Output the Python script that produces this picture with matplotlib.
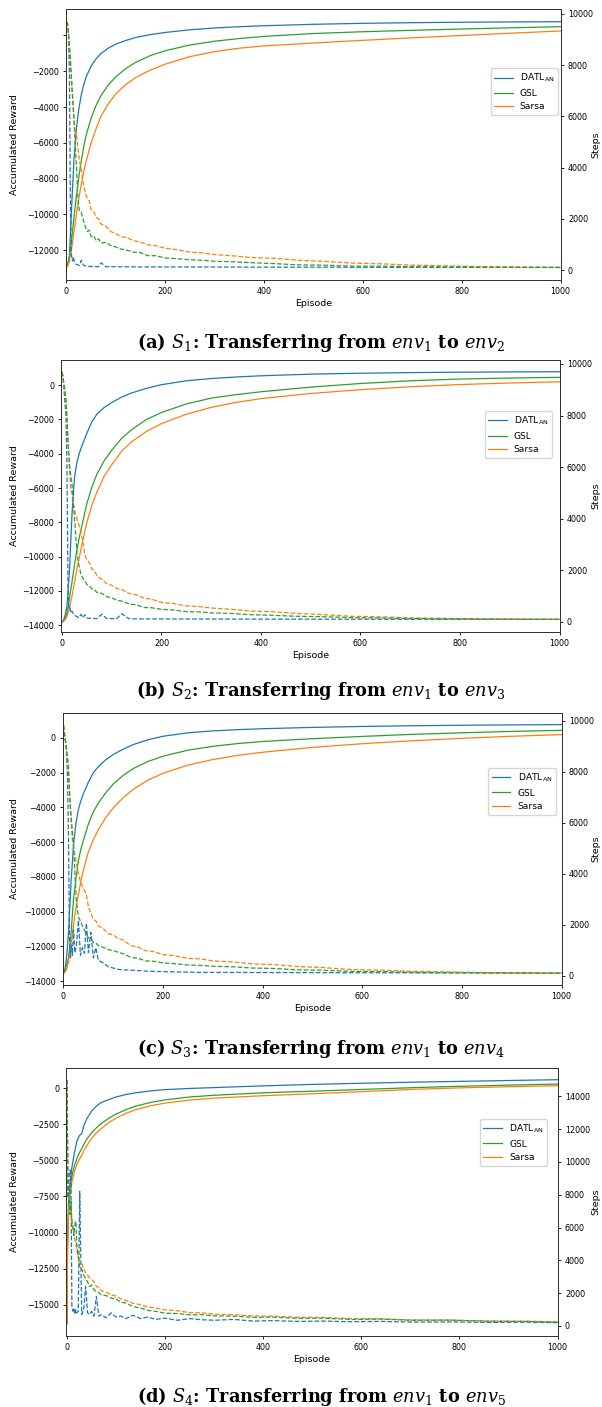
import matplotlib.pyplot as plt
from matplotlib.ticker import FuncFormatter, MultipleLocator

plt.rcParams['font.family'] = ['DejaVu Sans']
plt.rcParams['mathtext.fontset'] = 'dejavusans'

EP_SOLID = [0, 3, 6, 10, 15, 20, 25, 30, 35, 40, 50, 60, 70, 85, 100, 120, 140, 170, 200, 250,
            300, 350, 400, 500, 600, 700, 800, 900, 1000]
EP_SOLID_S4 = [0, 1, 3, 6, 10, 15, 20, 25, 30, 35, 40, 50, 60, 70, 85, 100, 120, 140, 170,
               200, 250, 300, 400, 500, 600, 700, 800, 900, 1000]
EP_STEPS = [0, 2, 4, 6, 8, 10, 12, 14, 16, 18, 20, 23, 26, 30, 34, 38, 42, 46, 50, 55,
            60, 65, 70, 80, 90, 100, 110, 120, 135, 150, 165, 180, 200, 225, 250, 275, 300,
            340, 380, 420, 470, 520, 580, 640, 700, 780, 860, 940, 1000]

# S1: env1 -> env2
S1_REWARD_DATL = [-12950, -12750, -12300, -9800, -7000, -5200, -4100, -3300, -2750, -2300, -1700, -1300, -1000, -700,
                  -480, -280, -110, 50, 170, 320, 420, 490, 545, 625, 680, 715, 740, 757, 770]
S1_REWARD_GSL = [-12950, -12750, -12350, -11500, -10200, -9000, -7900, -7000, -6200, -5550, -4600, -3900, -3350, -2750,
                 -2300, -1850, -1500, -1120, -850, -530, -320, -170, -50, 110, 210, 290, 360, 430, 490]
S1_REWARD_SARSA = [-12950, -12850, -12600, -12000, -11000, -10000, -9100, -8300, -7600, -7000, -6000, -5200, -4500,
                   -3800, -3250, -2750, -2350, -1930, -1600, -1180, -900, -710, -580, -420, -270, -130, 0, 130, 250]
S1_STEPS_DATL = [9700, 9600, 9300, 7500, 2500, 600, 350, 520, 300, 250, 220, 200, 180, 380, 200, 160, 150, 140, 140, 135,
                 130, 130, 280, 130, 130, 130, 125, 125, 125, 120, 120, 120, 120, 118, 118, 116, 115, 115, 113, 112,
                 110, 110, 108, 106, 105, 104, 102, 101, 100]
S1_STEPS_GSL = [9700, 9650, 9200, 8800, 8200, 7550, 6900, 6300, 5600, 4800, 4100, 2900, 2300, 2250, 1950, 1700, 1500,
                1560, 1300, 1340, 1150, 1220, 1050, 1080, 950, 900, 820, 790, 700, 680, 560, 560, 470, 440, 400, 380,
                340, 320, 280, 250, 200, 190, 150, 150, 130, 120, 110, 105, 100]
S1_STEPS_SARSA = [9700, 9600, 9200, 8700, 8100, 7400, 6800, 6200, 5600, 5300, 5400, 4800, 4300, 3900, 3400, 3000, 2800,
                  2700, 2350, 2300, 2050, 2000, 1800, 1700, 1500, 1420, 1300, 1280, 1150, 1090, 980, 950, 850, 790, 700,
                  670, 600, 550, 480, 460, 380, 340, 270, 240, 190, 155, 125, 110, 100]

# S2: env1 -> env3
S2_REWARD_DATL = [-13810, -13700, -13450, -12900, -10800, -7600, -5400, -4500, -3950, -3550, -2800, -2150, -1700, -1300,
                  -1020, -700, -460, -190, 20, 250, 380, 470, 540, 635, 690, 725, 750, 765, 776]
S2_REWARD_GSL = [-13810, -13750, -13600, -13300, -12400, -11500, -10500, -9600, -8850, -8200, -6900, -5950, -5200, -4400,
                 -3800, -3100, -2600, -2000, -1600, -1100, -760, -560, -390, -120, 90, 250, 350, 410, 450]
S2_REWARD_SARSA = [-13810, -13780, -13700, -13500, -13000, -12300, -11500, -10700, -10000, -9300, -8000, -7000, -6250,
                   -5300, -4650, -3850, -3300, -2700, -2250, -1700, -1300, -1010, -790, -490, -270, -100, 30, 120, 190]
S2_STEPS_DATL = [9700, 9500, 9000, 8500, 8000, 6000, 1500, 500, 550, 350, 420, 300, 250, 200, 170, 300, 160, 280, 150,
                 140, 140, 135, 130, 300, 130, 130, 125, 320, 120, 120, 118, 118, 116, 115, 114, 113, 112, 111, 110,
                 109, 108, 107, 106, 105, 104, 103, 102, 101, 100]
S2_STEPS_GSL = [9700, 9500, 9200, 9000, 8600, 7950, 7100, 6400, 5900, 5600, 5380, 4500, 3800, 2660, 2200, 1850, 1700,
                1600, 1450, 1400, 1280, 1250, 1150, 1110, 980, 940, 840, 810, 700, 660, 560, 550, 490, 460, 400, 390,
                350, 330, 280, 260, 220, 205, 170, 155, 130, 120, 110, 105, 100]
S2_STEPS_SARSA = [9700, 9500, 9150, 8900, 8500, 7800, 7000, 6300, 5600, 5100, 5000, 4600, 4300, 4000, 3750, 3500, 3100,
                  2600, 2400, 2300, 2050, 2000, 1800, 1650, 1480, 1420, 1300, 1260, 1100, 1050, 920, 880, 760, 710,
                  620, 600, 540, 490, 420, 400, 330, 290, 220, 200, 160, 135, 115, 105, 100]

# S3: env1 -> env4
S3_REWARD_DATL = [-13560, -13300, -12700, -11250, -8400, -6200, -4900, -4100, -3600, -3200, -2550, -2000, -1650, -1250,
                  -950, -640, -380, -100, 100, 300, 410, 480, 535, 610, 665, 705, 735, 755, 770]
S3_REWARD_GSL = [-13560, -13400, -13100, -12700, -11300, -9340, -8100, -7040, -6400, -5900, -4950, -4250, -3750, -3150,
                 -2650, -2150, -1760, -1350, -1050, -700, -480, -320, -200, -40, 90, 210, 300, 380, 440]
S3_REWARD_SARSA = [-13560, -13500, -13350, -12900, -11900, -10800, -9800, -9000, -8250, -7600, -6550, -5850, -5280,
                   -4580, -4020, -3430, -2960, -2420, -2030, -1560, -1240, -1000, -820, -540, -330, -160, -20, 100, 195]
S3_STEPS_DATL = [9830, 9500, 9200, 8800, 7800, 5500, 1500, 700, 1200, 800, 1800, 900, 1200, 2180, 800, 1100, 880, 2060,
                 900, 1700, 700, 1100, 600, 500, 350, 300, 250, 230, 220, 200, 180, 170, 160, 150, 140, 130, 130, 128,
                 126, 124, 122, 120, 118, 115, 112, 110, 106, 103, 100]
S3_STEPS_GSL = [9830, 9500, 9200, 8900, 8600, 8200, 7300, 6600, 6100, 5600, 5190, 4000, 2900, 2300, 2150, 1950, 1800,
                1650, 1480, 1430, 1300, 1280, 1180, 1110, 1020, 990, 920, 860, 720, 680, 580, 570, 500, 470, 420, 405,
                370, 350, 300, 285, 230, 215, 170, 160, 130, 120, 110, 105, 100]
S3_STEPS_SARSA = [9830, 9500, 9200, 8900, 8500, 8000, 7200, 6500, 5800, 5300, 5100, 4700, 4400, 4000, 3700, 3500, 3350,
                  3200, 2700, 2450, 2200, 2150, 1950, 1850, 1650, 1600, 1450, 1400, 1180, 1120, 980, 950, 830, 780,
                  680, 660, 580, 540, 460, 440, 360, 320, 240, 215, 170, 145, 120, 105, 100]

# S4: env1 -> env5
S4_REWARD_DATL = [-16300, -11000, -8000, -6600, -5500, -4500, -3700, -3300, -3150, -2550, -2150, -1600, -1250, -1000,
                  -800, -620, -450, -330, -200, -110, -30, 30, 150, 250, 330, 400, 460, 520, 575]
S4_REWARD_GSL = [-16300, -11000, -8500, -7200, -6100, -5400, -4900, -4500, -4200, -3850, -3550, -3100, -2750, -2450,
                 -2100, -1800, -1500, -1250, -1000, -820, -620, -500, -330, -220, -100, 20, 120, 200, 275]
S4_REWARD_SARSA = [-16300, -11500, -8800, -7500, -6500, -5800, -5300, -4960, -4650, -4300, -4000, -3500, -3100, -2800,
                   -2400, -2080, -1750, -1500, -1230, -1040, -830, -700, -530, -400, -250, -100, 10, 90, 160]
S4_STEPS_DATL = [15000, 8000, 9000, 9500, 9400, 1200, 900, 1100, 700, 1000, 800, 900, 8200, 700, 1000, 2400, 800, 700,
                 900, 600, 1800, 600, 700, 500, 800, 550, 600, 450, 650, 450, 550, 400, 480, 350, 450, 380, 350, 400,
                 300, 330, 280, 300, 260, 280, 240, 250, 220, 230, 200]
S4_STEPS_GSL = [15000, 7800, 8200, 6800, 7600, 6400, 6000, 5500, 6200, 6400, 5000, 4200, 3600, 3500, 3100, 2900, 2700,
                2400, 2500, 2200, 2100, 2050, 1900, 1850, 1700, 1640, 1450, 1400, 1180, 1100, 950, 900, 780, 760, 680,
                690, 620, 600, 530, 540, 470, 480, 400, 420, 350, 360, 290, 280, 225]
S4_STEPS_SARSA = [15000, 8000, 8000, 7500, 7000, 6500, 6000, 5600, 5300, 5000, 4600, 4300, 4000, 3800, 3500, 3250, 3100,
                  2950, 2850, 2700, 2400, 2350, 2150, 2050, 1900, 1820, 1650, 1560, 1380, 1300, 1150, 1100, 980, 930,
                  820, 800, 720, 690, 610, 600, 530, 520, 450, 440, 370, 360, 300, 290, 260]

LABELS = [r'DATL$_{\mathrm{AN}}$', 'GSL', 'Sarsa']
CAPTIONS = [r'(a) $S_1$: Transferring from $env_1$ to $env_2$',
            r'(b) $S_2$: Transferring from $env_1$ to $env_3$',
            r'(c) $S_3$: Transferring from $env_1$ to $env_4$',
            r'(d) $S_4$: Transferring from $env_1$ to $env_5$']

BLUE, ORANGE, GREEN = '#1f77b4', '#ff7f0e', '#2ca02c'
W, H = 602, 1407

fig = plt.figure(figsize=(W / 100, H / 100), dpi=100)

# pixel boxes (left, top, right, bottom), axis limits, legend anchor, caption y
panels = [
    dict(box=(65.5, 9, 561, 280), ylim=(-13660, 1480), y2lim=(-390, 10195), leg=(0.994, 0.782), cap=342,
         solid_x=EP_SOLID, reward=(S1_REWARD_DATL, S1_REWARD_GSL, S1_REWARD_SARSA),
         steps=(S1_STEPS_DATL, S1_STEPS_GSL, S1_STEPS_SARSA), ystep=2000, y2step=2000),
    dict(box=(61, 360, 560, 632), ylim=(-14390, 1460), y2lim=(-390, 10155), leg=(0.984, 0.8125), cap=691,
         solid_x=EP_SOLID, reward=(S2_REWARD_DATL, S2_REWARD_GSL, S2_REWARD_SARSA),
         steps=(S2_STEPS_DATL, S2_STEPS_GSL, S2_STEPS_SARSA), ystep=2000, y2step=2000),
    dict(box=(62.5, 713, 562, 985), ylim=(-14230, 1440), y2lim=(-365, 10310), leg=(0.988, 0.798), cap=1048,
         solid_x=EP_SOLID, reward=(S3_REWARD_DATL, S3_REWARD_GSL, S3_REWARD_SARSA),
         steps=(S3_STEPS_DATL, S3_STEPS_GSL, S3_STEPS_SARSA), ystep=2000, y2step=2000),
    dict(box=(66, 1068, 558, 1336), ylim=(-17150, 1385), y2lim=(-610, 15730), leg=(0.978, 0.81), cap=1396,
         solid_x=EP_SOLID_S4, reward=(S4_REWARD_DATL, S4_REWARD_GSL, S4_REWARD_SARSA),
         steps=(S4_STEPS_DATL, S4_STEPS_GSL, S4_STEPS_SARSA), ystep=2500, y2step=2000),
]


def fmt(v, pos, hide_zero=False):
    if hide_zero and v == 0:
        return ''
    return f'{v:.0f}'.replace('-', '\u2212')


TICK_FS = 5.8
LABEL_FS = 6.8
for i, p in enumerate(panels):
    l, t, r, b = p['box']
    ax = fig.add_axes([l / W, 1 - b / H, (r - l) / W, (b - t) / H])
    ax2 = ax.twinx()
    colors = (BLUE, GREEN, ORANGE)
    lines = []
    for vals, c, lab in zip(p['reward'], colors, LABELS):
        ln, = ax.plot(p['solid_x'], vals, color=c, lw=0.9, label=lab)
        lines.append(ln)
    # dashed step curves: DATL at the back, GSL on top
    for k in (0, 2, 1):
        ax2.plot(EP_STEPS, p['steps'][k], '--', color=colors[k], lw=0.9)

    ax.set_xlim(-2, 1001)
    ax.set_ylim(*p['ylim'])
    ax2.set_ylim(*p['y2lim'])
    ax.xaxis.set_major_locator(MultipleLocator(200))
    ax.yaxis.set_major_locator(MultipleLocator(p['ystep']))
    ax2.yaxis.set_major_locator(MultipleLocator(p['y2step']))
    ax.yaxis.set_major_formatter(FuncFormatter(lambda v, pos, hz=(i == 0): fmt(v, pos, hz)))
    ax2.yaxis.set_major_formatter(FuncFormatter(fmt))
    ax.xaxis.set_major_formatter(FuncFormatter(fmt))

    for a in (ax, ax2):
        a.tick_params(labelsize=TICK_FS, length=2.5, width=0.6, pad=2.5)
        for s in a.spines.values():
            s.set_linewidth(0.7)
            s.set_color('#333333')
    ax.set_xlabel('Episode', fontsize=LABEL_FS, labelpad=2)
    ax.set_ylabel('Accumulated Reward', fontsize=LABEL_FS)
    ax2.set_ylabel('Steps', fontsize=LABEL_FS)
    ax.yaxis.set_label_coords((19.5 - l) / (r - l), 0.5)
    ax2.yaxis.set_label_coords((591.5 - l) / (r - l), 0.5)

    ax2.legend(lines, LABELS, loc='upper right', bbox_to_anchor=p['leg'], borderaxespad=0,
               fontsize=6.6, framealpha=0.8)

    fig.text(321 / W, 1 - p['cap'] / H, CAPTIONS[i], ha='center', va='center', fontsize=12.8,
             fontweight='bold', family='DejaVu Serif', math_fontfamily='dejavuserif')

fig.savefig('out.png', dpi=100)
